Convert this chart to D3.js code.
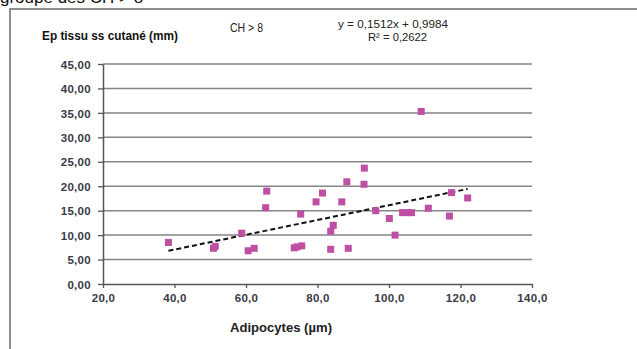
<!DOCTYPE html>
<html>
<head>
<meta charset="utf-8">
<script src="https://cdn.jsdelivr.net/npm/d3@7"></script>
<style>
  body { margin: 0; background: #fff; }
  svg { display: block; }
  text { font-family: "Liberation Sans", Arial, sans-serif; }
</style>
</head>
<body>
<svg id="chart" width="637" height="349"></svg>
<script>
// adipocyte size (µm) vs subcutaneous tissue thickness (mm), group CH > 8
const adipocytes = [38.3, 50.9, 51.4, 58.8, 60.6, 62.3, 65.5, 65.8, 73.5, 74.3, 75.6,
  75.3, 79.6, 81.4, 83.7, 84.4, 83.7, 86.8, 88.2, 88.6, 93.1, 93.0, 96.3, 100.1,
  101.7, 103.8, 105.2, 106.3, 109.0, 111.0, 116.9, 117.5, 122.0];
const thickness = [8.5, 7.3, 7.7, 10.4, 6.8, 7.3, 15.6, 19.0, 7.4, 7.6, 7.8,
  14.3, 16.8, 18.6, 10.8, 12.0, 7.1, 16.8, 20.9, 7.3, 23.7, 20.4, 15.0, 13.4,
  10.0, 14.6, 14.6, 14.6, 35.3, 15.5, 13.9, 18.7, 17.6];
const xTicks = [20, 40, 60, 80, 100, 120, 140];
const yTicks = [0, 5, 10, 15, 20, 25, 30, 35, 40, 45];
const trend = { slope: 0.1512, intercept: 0.9984, r2: 0.2622 };

const fmt = (v, d) => v.toFixed(d).replace('.', ',');

const svg = d3.select('#chart');

const x = d3.scaleLinear().domain([20, 140]).range([103, 532]);
const y = d3.scaleLinear().domain([0, 45]).range([284, 64]);

// page text cut at the top (as in the scanned page)
svg.append('text')
  .attr('x', 0).attr('y', 3)
  .attr('font-size', 17)
  .attr('fill', '#111')
  .text('groupe des CH > 8');

// frame
svg.append('path')
  .attr('d', 'M10,349 V9 H637')
  .attr('fill', 'none')
  .attr('stroke', '#6a6a6a')
  .attr('stroke-width', 1.5);

// gridlines
svg.append('g')
  .selectAll('line')
  .data(yTicks.filter(d => d > 0))
  .enter()
  .append('line')
  .attr('x1', x(20)).attr('x2', x(140))
  .attr('y1', d => y(d)).attr('y2', d => y(d))
  .attr('stroke', '#858585')
  .attr('stroke-width', 1.5);

// axes
let yAxis = svg.append('g')
  .attr('transform', `translate(${x(20)},0)`)
  .call(d3.axisLeft(y).tickValues(yTicks).tickSize(5).tickSizeOuter(0).tickFormat(d => fmt(d, 2)));

let xAxis = svg.append('g')
  .attr('transform', `translate(0,${y(0)})`)
  .call(d3.axisBottom(x).tickValues(xTicks).tickSize(4).tickSizeOuter(0).tickFormat(d => fmt(d, 1)));

[yAxis, xAxis].forEach(a => {
  a.select('.domain').attr('stroke', '#555').attr('stroke-width', 1.5);
  a.selectAll('.tick line').attr('stroke', '#555').attr('stroke-width', 1.3);
  a.selectAll('.tick text')
    .attr('font-family', '"DejaVu Sans", sans-serif')
    .attr('font-size', 11.5)
    .attr('font-weight', 'bold')
    .attr('letter-spacing', 0.3)
    .attr('fill', '#3a3a46');
});
yAxis.selectAll('.tick text').attr('x', -12).attr('dy', '0.36em');
xAxis.selectAll('.tick text').attr('y', 14).attr('dy', '0.36em');

// trend line over the data extent
const xExt = d3.extent(adipocytes);
svg.append('line')
  .attr('x1', x(xExt[0])).attr('y1', y(trend.slope * xExt[0] + trend.intercept))
  .attr('x2', x(xExt[1])).attr('y2', y(trend.slope * xExt[1] + trend.intercept))
  .attr('stroke', '#111')
  .attr('stroke-width', 2)
  .attr('stroke-dasharray', '5,3');

// points
const size = 7;
svg.append('g')
  .selectAll('rect')
  .data(adipocytes.map((a, i) => [a, thickness[i]]))
  .enter()
  .append('rect')
  .attr('x', d => x(d[0]) - size / 2)
  .attr('y', d => y(d[1]) - size / 2)
  .attr('width', size).attr('height', size)
  .attr('fill', '#BE4FA2');

// titles
svg.append('text')
  .attr('x', 42).attr('y', 40)
  .attr('font-size', 12.5).attr('font-weight', 'bold')
  .attr('fill', '#111')
  .attr('textLength', 136).attr('lengthAdjust', 'spacingAndGlyphs')
  .text('Ep tissu ss cutané (mm)');

svg.append('text')
  .attr('x', 230).attr('y', 32)
  .attr('font-size', 12).attr('fill', '#222')
  .attr('textLength', 33).attr('lengthAdjust', 'spacingAndGlyphs')
  .text('CH > 8');

svg.append('text')
  .attr('x', 338).attr('y', 28)
  .attr('font-size', 11).attr('fill', '#222')
  .attr('textLength', 110).attr('lengthAdjust', 'spacingAndGlyphs')
  .text(`y = ${fmt(trend.slope, 4)}x + ${fmt(trend.intercept, 4)}`);

svg.append('text')
  .attr('x', 368).attr('y', 41)
  .attr('font-size', 11).attr('fill', '#222')
  .attr('textLength', 59).attr('lengthAdjust', 'spacingAndGlyphs')
  .text(`R² = ${fmt(trend.r2, 4)}`);

svg.append('text')
  .attr('x', 230).attr('y', 332)
  .attr('font-size', 12.5).attr('font-weight', 'bold')
  .attr('fill', '#222')
  .attr('textLength', 102).attr('lengthAdjust', 'spacingAndGlyphs')
  .text('Adipocytes (µm)');
</script>
</body>
</html>
